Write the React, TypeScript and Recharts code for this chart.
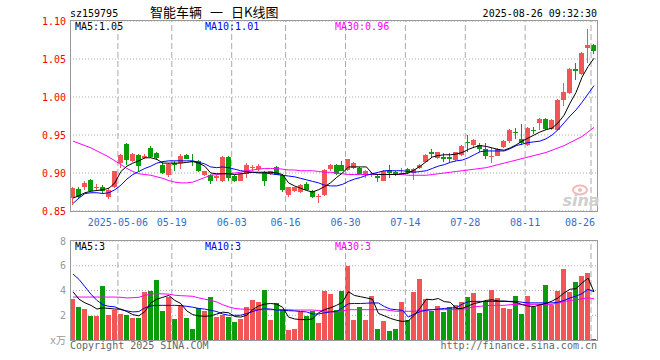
import { ComposedChart, Bar, Line, XAxis, YAxis, CartesianGrid, ReferenceLine } from 'recharts';

// trading days shown on the chart (month -> days)
const tradingDays: [string, number[]][] = [
  ['2025-04', [21, 22, 23, 24, 25, 28, 29, 30]],
  ['2025-05', [6, 7, 8, 9, 12, 13, 14, 15, 16, 19, 20, 21, 22, 23, 26, 27, 28, 29, 30]],
  ['2025-06', [3, 4, 5, 6, 9, 10, 11, 12, 13, 16, 17, 18, 19, 20, 23, 24, 25, 26, 27, 30]],
  ['2025-07', [1, 2, 3, 4, 7, 8, 9, 10, 11, 14, 15, 16, 17, 18, 21, 22, 23, 24, 25, 28, 29, 30, 31]],
  ['2025-08', [1, 4, 5, 6, 7, 8, 11, 12, 13, 14, 15, 18, 19, 20, 21, 22, 25, 26]],
];

const tickDates = ['2025-05-06', '2025-05-19', '2025-06-03', '2025-06-16', '2025-06-30', '2025-07-14', '2025-07-28', '2025-08-11', '2025-08-26'];
const priceTicks = [0.85, 0.9, 0.95, 1.0, 1.05, 1.1];
const volTicks = [0, 2, 4, 6, 8];

const opens = [
  0.867, 0.879, 0.881, 0.891, 0.881, 0.882, 0.868, 0.882, 0.913, 0.9385,
  0.916, 0.924, 0.920, 0.933, 0.926, 0.911, 0.898, 0.913, 0.913, 0.924,
  0.916, 0.916, 0.897, 0.898, 0.893, 0.889, 0.921, 0.896, 0.890, 0.899,
  0.906, 0.905, 0.901, 0.899, 0.908, 0.898, 0.871, 0.876, 0.875, 0.885,
  0.876, 0.869, 0.871, 0.905, 0.911, 0.911, 0.904, 0.907, 0.907, 0.897,
  0.897, 0.896, 0.890, 0.904, 0.901, 0.898, 0.905, 0.900, 0.906, 0.915,
  0.927, 0.920, 0.921, 0.921, 0.917, 0.924, 0.941, 0.937, 0.937, 0.932,
  0.921, 0.923, 0.934, 0.942, 0.954, 0.945, 0.937, 0.957, 0.966, 0.971,
  0.958, 0.957, 0.996, 1.005, 1.037, 1.030, 1.064, 1.069,
];
const closes = [
  0.880, 0.869, 0.887, 0.876, 0.882, 0.876, 0.878, 0.902, 0.924, 0.9175,
  0.925, 0.909, 0.923, 0.921, 0.920, 0.900, 0.912, 0.911, 0.923, 0.919,
  0.914, 0.903, 0.902, 0.889, 0.896, 0.921, 0.893, 0.890, 0.899, 0.911,
  0.908, 0.909, 0.890, 0.902, 0.898, 0.877, 0.881, 0.881, 0.884, 0.878,
  0.868, 0.870, 0.904, 0.911, 0.899, 0.903, 0.918, 0.913, 0.899, 0.903,
  0.899, 0.893, 0.903, 0.900, 0.897, 0.900, 0.900, 0.905, 0.911, 0.924,
  0.925, 0.927, 0.919, 0.919, 0.927, 0.936, 0.939, 0.944, 0.932, 0.922,
  0.922, 0.932, 0.942, 0.957, 0.952, 0.940, 0.959, 0.956, 0.971, 0.958,
  0.970, 0.996, 1.007, 1.037, 1.034, 1.058, 1.069, 1.061,
];
const highs = [
  0.881, 0.881, 0.890, 0.892, 0.886, 0.884, 0.880, 0.903, 0.925, 0.939,
  0.926, 0.925, 0.925, 0.936, 0.928, 0.916, 0.913, 0.916, 0.925, 0.925,
  0.925, 0.917, 0.903, 0.899, 0.897, 0.922, 0.922, 0.897, 0.900, 0.913,
  0.911, 0.912, 0.902, 0.903, 0.909, 0.899, 0.882, 0.882, 0.885, 0.888,
  0.877, 0.872, 0.905, 0.912, 0.912, 0.916, 0.919, 0.914, 0.908, 0.904,
  0.901, 0.899, 0.904, 0.910, 0.902, 0.906, 0.906, 0.906, 0.912, 0.925,
  0.931, 0.928, 0.926, 0.926, 0.928, 0.937, 0.950, 0.945, 0.939, 0.939,
  0.933, 0.933, 0.943, 0.958, 0.959, 0.965, 0.960, 0.961, 0.972, 0.972,
  0.971, 0.997, 1.018, 1.038, 1.045, 1.059, 1.090, 1.070,
];
const lows = [
  0.858, 0.867, 0.877, 0.875, 0.878, 0.874, 0.866, 0.880, 0.907, 0.911,
  0.914, 0.902, 0.918, 0.920, 0.917, 0.899, 0.895, 0.903, 0.905, 0.918,
  0.909, 0.901, 0.896, 0.886, 0.890, 0.888, 0.889, 0.888, 0.889, 0.893,
  0.902, 0.902, 0.883, 0.898, 0.897, 0.875, 0.869, 0.875, 0.874, 0.877,
  0.867, 0.860, 0.870, 0.903, 0.898, 0.902, 0.903, 0.905, 0.898, 0.893,
  0.895, 0.888, 0.889, 0.893, 0.896, 0.897, 0.899, 0.891, 0.905, 0.914,
  0.920, 0.919, 0.915, 0.913, 0.916, 0.923, 0.928, 0.933, 0.927, 0.918,
  0.913, 0.922, 0.933, 0.940, 0.945, 0.937, 0.936, 0.951, 0.957, 0.957,
  0.957, 0.956, 0.988, 1.004, 1.023, 1.029, 1.045, 1.056,
];
// volume, 万
const volumes = [
  3.28, 2.64, 2.48, 1.92, 1.92, 4.40, 2.00, 2.40, 2.08, 2.00,
  1.76, 1.76, 3.84, 3.92, 4.88, 2.32, 3.44, 1.68, 2.80, 1.76,
  0.88, 2.56, 2.32, 3.44, 1.84, 2.00, 1.84, 1.44, 1.68, 2.64,
  3.20, 3.04, 4.08, 1.60, 2.96, 2.48, 0.80, 0.88, 2.24, 1.92,
  2.32, 1.36, 3.92, 3.68, 2.40, 3.92, 6.00, 1.60, 2.64, 1.60,
  3.52, 0.88, 1.52, 0.72, 0.88, 3.04, 1.60, 3.84, 4.96, 3.28,
  2.32, 2.72, 2.24, 2.64, 2.80, 3.04, 3.44, 3.76, 2.16, 3.12,
  4.08, 3.36, 2.56, 2.48, 3.52, 2.08, 3.52, 2.64, 2.88, 4.48,
  2.80, 3.92, 5.76, 3.84, 4.72, 5.20, 5.44, 0.08,
];
const ma5 = [
  0.867, 0.870, 0.874, 0.876, 0.877, 0.878, 0.880, 0.887, 0.902, 0.909,
  0.913, 0.916, 0.920, 0.920, 0.918, 0.913, 0.913, 0.913, 0.913, 0.914,
  0.915, 0.913, 0.909, 0.900, 0.899, 0.899, 0.899, 0.898, 0.899, 0.900,
  0.901, 0.901, 0.901, 0.901, 0.900, 0.898, 0.887, 0.883, 0.880, 0.877,
  0.875, 0.878, 0.882, 0.887, 0.894, 0.900, 0.908, 0.908, 0.908, 0.908,
  0.899, 0.898, 0.898, 0.898, 0.898, 0.899, 0.900, 0.904, 0.909, 0.915,
  0.921, 0.923, 0.924, 0.924, 0.925, 0.927, 0.931, 0.934, 0.936, 0.935,
  0.933, 0.931, 0.930, 0.933, 0.937, 0.942, 0.946, 0.950, 0.954, 0.957,
  0.959, 0.966, 0.976, 0.992, 1.006, 1.026, 1.040, 1.051,
];
const ma10 = [
  0.860, 0.867, 0.873, 0.874, 0.874, 0.873, 0.874, 0.878, 0.884, 0.892,
  0.898, 0.902, 0.906, 0.909, 0.913, 0.915, 0.916, 0.916, 0.916, 0.916,
  0.916, 0.914, 0.912, 0.908, 0.907, 0.908, 0.907, 0.905, 0.903, 0.902,
  0.901, 0.900, 0.900, 0.899, 0.898, 0.897, 0.896, 0.895, 0.893, 0.891,
  0.889, 0.887, 0.884, 0.883, 0.883, 0.885, 0.889, 0.892, 0.894, 0.897,
  0.899, 0.901, 0.903, 0.903, 0.903, 0.903, 0.902, 0.901, 0.902, 0.903,
  0.906, 0.909, 0.911, 0.914, 0.916, 0.917, 0.920, 0.924, 0.928, 0.929,
  0.929, 0.929, 0.929, 0.932, 0.936, 0.938, 0.940, 0.941, 0.942, 0.945,
  0.950, 0.957, 0.966, 0.975, 0.983, 0.993, 1.004, 1.015,
];
const ma30 = [
  0.942, 0.939, 0.936, 0.933, 0.929, 0.925, 0.921, 0.916, 0.911, 0.906,
  0.902, 0.899, 0.898, 0.897, 0.895, 0.893, 0.890, 0.888, 0.887, 0.887,
  0.888, 0.891, 0.894, 0.897, 0.898, 0.899, 0.899, 0.900, 0.901, 0.903,
  0.904, 0.905, 0.906, 0.906, 0.906, 0.905, 0.904, 0.904, 0.903, 0.903,
  0.903, 0.902, 0.901, 0.901, 0.900, 0.899, 0.898, 0.898, 0.898, 0.898,
  0.898, 0.898, 0.898, 0.898, 0.898, 0.898, 0.897, 0.897, 0.897, 0.897,
  0.898, 0.899, 0.900, 0.901, 0.902, 0.903, 0.904, 0.905, 0.906, 0.907,
  0.909, 0.911, 0.913, 0.915, 0.917, 0.919, 0.921, 0.923, 0.925, 0.927,
  0.930, 0.933, 0.936, 0.940, 0.944, 0.948, 0.954, 0.960,
];
const vma5 = [
  3.90, 3.30, 3.00, 2.80, 2.50, 2.60, 2.55, 2.50, 2.50, 2.30,
  2.05, 1.95, 2.30, 3.00, 3.30, 3.45, 3.60, 3.20, 2.95, 2.35,
  2.05, 1.95, 1.92, 1.95, 2.10, 2.25, 2.20, 1.90, 1.85, 2.00,
  2.45, 2.75, 2.90, 2.95, 2.90, 2.65, 1.85, 1.70, 1.65, 1.65,
  1.70, 2.20, 2.45, 2.60, 2.80, 3.05, 3.90, 3.60, 3.50, 3.40,
  3.30, 2.15, 1.95, 1.75, 1.60, 1.50, 1.55, 2.00, 2.60, 3.30,
  3.25, 3.35, 3.10, 3.05, 2.55, 2.55, 2.75, 2.95, 3.05, 3.20,
  3.25, 3.15, 3.15, 3.10, 3.05, 2.85, 2.75, 2.70, 2.85, 2.95,
  3.15, 3.40, 3.80, 4.10, 4.15, 4.60, 5.00, 3.90,
];
const vma10 = [
  5.33, 4.90, 4.30, 3.70, 3.20, 2.85, 2.72, 2.68, 2.45, 2.35,
  2.27, 2.30, 2.60, 2.75, 2.80, 2.80, 2.80, 2.80, 2.78, 2.72,
  2.65, 2.55, 2.50, 2.40, 2.30, 2.10, 2.00, 2.00, 2.00, 2.13,
  2.30, 2.45, 2.53, 2.50, 2.42, 2.40, 2.37, 2.35, 2.30, 2.27,
  2.10, 2.10, 2.20, 2.27, 2.30, 2.60, 2.93, 2.95, 2.95, 2.97,
  3.00, 2.99, 2.70, 2.50, 2.45, 2.40, 1.85, 2.10, 2.30, 2.40,
  2.45, 2.50, 2.55, 2.58, 2.61, 2.90, 3.10, 3.12, 3.12, 3.12,
  3.12, 3.12, 3.12, 3.12, 3.12, 3.05, 3.00, 3.00, 3.00, 3.00,
  3.00, 3.05, 3.20, 3.40, 3.55, 3.75, 4.10, 3.90,
];
const vma30 = [
  3.47, 3.47, 3.47, 3.47, 3.47, 3.47, 3.47, 3.47, 3.45, 3.40,
  3.42, 3.45, 3.60, 3.72, 3.73, 3.73, 3.70, 3.62, 3.58, 3.56,
  3.53, 3.40, 3.30, 3.20, 3.07, 2.85, 2.68, 2.55, 2.50, 2.48,
  2.45, 2.45, 2.45, 2.45, 2.45, 2.45, 2.45, 2.42, 2.42, 2.42,
  2.42, 2.38, 2.35, 2.30, 2.27, 2.35, 2.45, 2.45, 2.45, 2.45,
  2.45, 2.45, 2.45, 2.38, 2.32, 2.32, 2.32, 2.32, 2.38, 2.45,
  2.45, 2.45, 2.45, 2.45, 2.45, 2.45, 2.60, 2.68, 2.72, 2.78,
  2.80, 2.80, 2.80, 2.85, 2.88, 2.88, 2.88, 2.88, 2.88, 2.88,
  2.88, 3.00, 3.10, 3.20, 3.25, 3.33, 3.41, 3.33,
];

const dates = tradingDays.flatMap(([m, days]) => days.map((d) => `${m}-${String(d).padStart(2, '0')}`));

const rows = dates.map((date, i) => ({
  date,
  open: opens[i],
  close: closes[i],
  high: highs[i],
  low: lows[i],
  vol: volumes[i],
  ma5: ma5[i],
  ma10: ma10[i],
  ma30: ma30[i],
  vma5: vma5[i],
  vma10: vma10[i],
  vma30: vma30[i],
}));

const UP = '#f25555';
const DOWN = '#0a9c0a';
const MONO = '"DejaVu Sans Mono", "Liberation Mono", monospace';
const CJK = '"Noto Sans CJK SC", sans-serif';
const GRID = '#aaaaaa';
const DATE_BLUE = '#2f6fd0';

const Candle = (props: any) => {
  const { x, y, width, height, payload } = props;
  const { open, close, high, low } = payload;
  const color = close >= open ? UP : DOWN;
  const top = Math.min(y, y + height);
  const h = Math.abs(height);
  const span = high - low;
  const toY = (v: number) => (span === 0 ? top : top + ((high - v) / span) * h);
  const left = Math.round(x);
  const w = Math.max(1, Math.round(width));
  const cx = left + Math.floor(w / 2) + 0.5;
  const bTop = Math.round(toY(Math.max(open, close)));
  const bBot = Math.round(toY(Math.min(open, close)));
  return (
    <g>
      <line x1={cx} x2={cx} y1={Math.round(top)} y2={Math.round(top + h)} stroke={color} strokeWidth={1} />
      <rect x={left} y={bTop} width={w} height={Math.max(1, bBot - bTop)} fill={color} />
    </g>
  );
};

const VolBar = (props: any) => {
  const { x, y, width, height, payload } = props;
  const color = payload.close >= payload.open ? UP : DOWN;
  const top = Math.round(Math.min(y, y + height));
  const bottom = Math.round(Math.max(y, y + height));
  return <rect x={Math.round(x)} y={top} width={Math.max(1, Math.round(width))} height={Math.max(1, bottom - top)} fill={color} />;
};

const DateTick = (props: any) => {
  const { x, y, payload } = props;
  const v = payload.value as string;
  const label = v === tickDates[0] ? v : v.slice(5);
  const last = v === tickDates[tickDates.length - 1];
  return (
    <text x={last ? x + 1 : x - 3} y={y + 15} textAnchor={last ? 'end' : 'middle'} fill={DATE_BLUE} fontSize={10} fontFamily={MONO}>
      {label}
    </text>
  );
};

export default function App() {
  return (
    <div style={{ position: 'absolute', left: 0, top: 0, width: 660, height: 360, background: '#fff' }}>
      <div style={{ position: 'absolute', left: 0, top: 0 }}>
        <ComposedChart width={660} height={235} data={rows} margin={{ top: 21, right: 63, bottom: 4, left: 0 }}>
          <CartesianGrid vertical={false} stroke={GRID} strokeDasharray="1 2" />
          <XAxis dataKey="date" ticks={tickDates} interval={0} height={20} axisLine={false} tickLine={false} tickSize={0} tickMargin={0} tick={DateTick} />
          <YAxis
            domain={[0.85, 1.1]}
            ticks={priceTicks}
            interval={0}
            width={70}
            allowDataOverflow
            axisLine={false}
            tickLine={false}
            tickSize={0}
            tickMargin={4}
            tickFormatter={(v: number) => v.toFixed(2)}
            tick={{ fill: '#ff0000', fontSize: 10, fontFamily: MONO }}
          />
          {tickDates.map((d) => (
            <ReferenceLine key={d} x={d} position="start" stroke={GRID} strokeDasharray="6 3" />
          ))}
          <Bar dataKey={(r: any) => [r.low, r.high]} barSize={5} shape={Candle} isAnimationActive={false} />
          <Line type="linear" dataKey="ma30" stroke="#ff00ff" strokeWidth={1} dot={false} isAnimationActive={false} />
          <Line type="linear" dataKey="ma10" stroke="#0000ff" strokeWidth={1} dot={false} isAnimationActive={false} />
          <Line type="linear" dataKey="ma5" stroke="#000000" strokeWidth={1} dot={false} isAnimationActive={false} />
        </ComposedChart>
      </div>
      <div style={{ position: 'absolute', left: 0, top: 230 }}>
        <ComposedChart width={660} height={115} data={rows} margin={{ top: 11, right: 63, bottom: 5, left: 0 }}>
          <CartesianGrid vertical={false} stroke={GRID} strokeDasharray="1 2" />
          <XAxis dataKey="date" hide />
          <YAxis
            domain={[0, 8]}
            ticks={volTicks}
            interval={0}
            width={70}
            allowDataOverflow
            axisLine={false}
            tickLine={false}
            tickSize={0}
            tickMargin={4}
            tickFormatter={(v: number) => (v === 0 ? 'x万' : String(v))}
            tick={{ fill: '#999999', fontSize: 10, fontFamily: MONO + ', "Noto Sans CJK SC"' }}
          />
          {tickDates.map((d) => (
            <ReferenceLine key={d} x={d} position="start" stroke={GRID} strokeDasharray="6 3" />
          ))}
          <Bar dataKey="vol" barSize={5} shape={VolBar} isAnimationActive={false} />
          <Line type="linear" dataKey="vma30" stroke="#ff00ff" strokeWidth={1} dot={false} isAnimationActive={false} />
          <Line type="linear" dataKey="vma10" stroke="#0000ff" strokeWidth={1} dot={false} isAnimationActive={false} />
          <Line type="linear" dataKey="vma5" stroke="#000000" strokeWidth={1} dot={false} isAnimationActive={false} />
        </ComposedChart>
      </div>
      <svg width={660} height={360} style={{ position: 'absolute', left: 0, top: 0, pointerEvents: 'none' }}>
        <rect x={70.5} y={20.5} width={527} height={191} fill="none" stroke="#999" />
        <rect x={70.5} y={240.5} width={527} height={100} fill="none" stroke="#999" />
        <g fontFamily={MONO} fontSize={10}>
          <text x={70} y={17} fill="#000">sz159795</text>
          <text x={597} y={17} fill="#000" textAnchor="end">2025-08-26 09:32:30</text>
          <text x={75} y={30} fill="#000">MA5:1.05</text>
          <text x={205} y={30} fill="#0000ff">MA10:1.01</text>
          <text x={335} y={30} fill="#ff00ff">MA30:0.96</text>
          <text x={75} y={250} fill="#000">MA5:3</text>
          <text x={205} y={250} fill="#0000ff">MA10:3</text>
          <text x={335} y={250} fill="#ff00ff">MA30:3</text>
          <text x={70} y={349} fill="#666">Copyright 2025 SINA.COM</text>
          <text x={597} y={349} fill="#666" textAnchor="end">http://finance.sina.com.cn</text>
        </g>
        <g fontSize={13} fontFamily={CJK} fill="#000">
          <text x={150} y={17}>智能车辆</text>
          <text x={210} y={17}>一</text>
          <text x={231} y={17}>日K线图</text>
        </g>
        <ellipse cx={580} cy={190} rx={7} ry={4.5} fill="none" stroke="#f4b8b8" strokeWidth={2} />
        <circle cx={580} cy={190} r={2} fill="#f4b8b8" />
        <text x={581} y={206} textAnchor="middle" fontSize={16} fontStyle="italic" fontWeight="bold" fontFamily='"DejaVu Sans", sans-serif' fill="#cfcfcf">
          sina
        </text>
      </svg>
    </div>
  );
}
